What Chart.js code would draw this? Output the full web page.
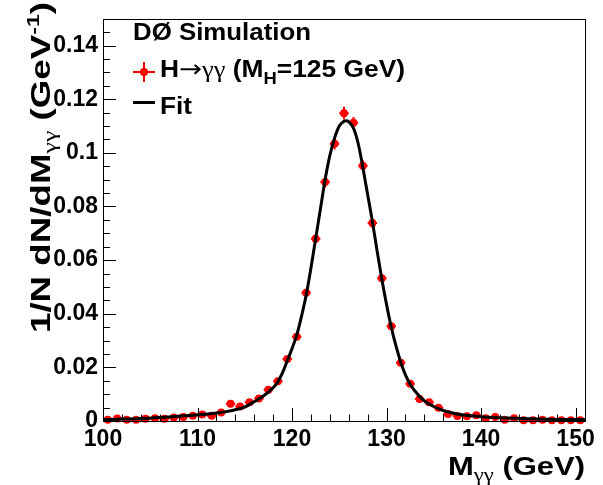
<!DOCTYPE html>
<html>
<head>
<meta charset="utf-8">
<title>H to gamma gamma mass</title>
<script src="https://cdn.jsdelivr.net/npm/chart.js@4/dist/chart.umd.min.js"></script>
<style>
  html, body { margin: 0; padding: 0; background: #fff; }
  #plot { display: block; }
</style>
</head>
<body>
<canvas id="plot" width="603" height="485"></canvas>
<script>
// bin centres (GeV), 1 GeV wide bins
const massBins = [
  100.5, 101.5, 102.5, 103.5, 104.5, 105.5, 106.5, 107.5, 108.5, 109.5,
  110.5, 111.5, 112.5, 113.5, 114.5, 115.5, 116.5, 117.5, 118.5, 119.5,
  120.5, 121.5, 122.5, 123.5, 124.5, 125.5, 126.5, 127.5, 128.5, 129.5,
  130.5, 131.5, 132.5, 133.5, 134.5, 135.5, 136.5, 137.5, 138.5, 139.5,
  140.5, 141.5, 142.5, 143.5, 144.5, 145.5, 146.5, 147.5, 148.5, 149.5,
  150.5
];
const binHalfWidth = 0.5;

// 1/N dN/dM
const massValues = [
  0.0005, 0.0009, 0.0005, 0.0005, 0.0008, 0.0010, 0.0008, 0.0013, 0.0015, 0.0020,
  0.0024, 0.0020, 0.0032, 0.0064, 0.0054, 0.0070, 0.0084, 0.0117, 0.0148, 0.0231,
  0.0314, 0.0478, 0.0680, 0.0891, 0.1034, 0.1148, 0.1112, 0.0952, 0.0738, 0.0532,
  0.0353, 0.0217, 0.0139, 0.0082, 0.0070, 0.0049, 0.0026, 0.0019, 0.0018, 0.0021,
  0.0010, 0.0015, 0.0005, 0.0010, 0.0003, 0.0003, 0.0005, 0.0003, 0.0003, 0.0003,
  0.0003
];
const massErrors = [
  0.0003, 0.0003, 0.0003, 0.0003, 0.0003, 0.0003, 0.0003, 0.0003, 0.0003, 0.0003,
  0.0003, 0.0003, 0.0004, 0.0005, 0.0005, 0.0005, 0.0006, 0.0007, 0.0008, 0.0010,
  0.0012, 0.0015, 0.0017, 0.0020, 0.0021, 0.0024, 0.0022, 0.0020, 0.0017, 0.0015,
  0.0012, 0.0010, 0.0008, 0.0006, 0.0005, 0.0005, 0.0004, 0.0003, 0.0003, 0.0003,
  0.0003, 0.0003, 0.0003, 0.0003, 0.0003, 0.0003, 0.0003, 0.0003, 0.0003, 0.0003,
  0.0003
];

// fit curve
const fitMass = [
  100, 102, 104, 106, 108, 110, 112, 113, 114, 115, 116, 117, 118, 118.5, 119, 119.5,
  120, 120.5, 121, 121.5, 122, 122.5, 123, 123.5, 124, 124.5, 125, 125.5, 125.75, 126,
  126.5, 127, 127.5, 128, 128.5, 129, 129.5, 130, 130.5, 131, 131.5, 132, 132.5, 133,
  134, 135, 136, 137, 138, 140, 142, 145, 148, 151
];
const fitValues = [
  0.0005, 0.0007, 0.0009, 0.0013, 0.0018, 0.0023, 0.0030, 0.0035, 0.0042, 0.0052, 0.0072, 0.0094, 0.0124, 0.0146, 0.0180, 0.0225,
  0.0270, 0.0320, 0.0390, 0.0470, 0.0570, 0.0680, 0.0790, 0.0900, 0.0990, 0.1055, 0.1100, 0.1118, 0.1120, 0.1116,
  0.1092, 0.1035, 0.0945, 0.0845, 0.0745, 0.0635, 0.0530, 0.0435, 0.0350, 0.0280, 0.0220, 0.0172, 0.0137, 0.0112,
  0.0075, 0.0054, 0.0039, 0.0030, 0.0023, 0.0016, 0.0012, 0.0008, 0.0006, 0.0005
];

const SANS = '"Liberation Sans", Arial, Helvetica, sans-serif';
const SERIF = '"Liberation Serif", "DejaVu Serif", serif';
const ARROW = '"DejaVu Sans", sans-serif';
const RED = '#ff0000';

function fontOf(p) {
  const family = p.family || (p.serif ? SERIF : SANS);
  return (p.bold === false ? '' : 'bold ') + p.size + 'px ' + family;
}

// draws a run of text pieces, stretched along the run to a target length
function drawRich(ctx, x, y, parts, targetWidth, angle) {
  let total = 0;
  parts.forEach(p => { ctx.font = fontOf(p); total += ctx.measureText(p.t).width; });
  ctx.save();
  ctx.translate(x, y);
  if (angle) ctx.rotate(angle);
  ctx.scale(targetWidth ? targetWidth / total : 1, 1);
  ctx.fillStyle = '#000';
  ctx.textBaseline = 'alphabetic';
  ctx.textAlign = 'left';
  let cx = 0;
  parts.forEach(p => {
    ctx.font = fontOf(p);
    ctx.fillText(p.t, cx, p.dy || 0);
    cx += ctx.measureText(p.t).width;
  });
  ctx.restore();
}

const errorBars = {
  id: 'errorBars',
  beforeDatasetsDraw(chart) {
    const { ctx, scales: { x, y } } = chart;
    ctx.save();
    ctx.strokeStyle = RED;
    ctx.lineWidth = 2;
    massBins.forEach((m, i) => {
      const px = x.getPixelForValue(m);
      const py = y.getPixelForValue(massValues[i]);
      ctx.beginPath();
      ctx.moveTo(x.getPixelForValue(m - binHalfWidth), py);
      ctx.lineTo(x.getPixelForValue(m + binHalfWidth), py);
      ctx.moveTo(px, y.getPixelForValue(massValues[i] - massErrors[i]));
      ctx.lineTo(px, y.getPixelForValue(massValues[i] + massErrors[i]));
      ctx.stroke();
    });
    ctx.restore();
  }
};

const frameAndText = {
  id: 'frameAndText',
  afterDraw(chart) {
    const { ctx, chartArea: a, scales: { x, y } } = chart;
    ctx.save();
    ctx.strokeStyle = '#000';
    ctx.lineWidth = 1;
    ctx.strokeRect(Math.round(a.left) + 0.5, Math.round(a.top) + 0.5,
                   Math.round(a.right - a.left), Math.round(a.bottom - a.top));

    // inward ticks, ROOT style
    ctx.beginPath();
    for (let k = 0; k <= 25; k++) {
      const v = 100 + 2 * k;
      const px = Math.round(x.getPixelForValue(v)) + 0.5;
      const len = k % 5 === 0 ? 13 : 6.5;
      ctx.moveTo(px, a.bottom);
      ctx.lineTo(px, a.bottom - len);
    }
    for (let k = 0; k <= 30; k++) {
      const py = Math.round(y.getPixelForValue(0.005 * k)) + 0.5;
      const len = k % 4 === 0 ? 13 : 7;
      ctx.moveTo(a.left, py);
      ctx.lineTo(a.left + len, py);
    }
    ctx.stroke();

    // legend
    drawRich(ctx, 133, 39.5, [{ t: 'DØ Simulation', size: 23 }], 178);

    ctx.strokeStyle = RED;
    ctx.lineWidth = 2;
    ctx.beginPath();
    ctx.moveTo(133, 72); ctx.lineTo(155, 72);
    ctx.moveTo(144, 62); ctx.lineTo(144, 82);
    ctx.stroke();
    ctx.fillStyle = RED;
    ctx.beginPath(); ctx.arc(144, 72, 4, 0, Math.PI * 2); ctx.fill();
    drawRich(ctx, 160, 77, [
      { t: 'H', size: 23 },
      { t: '→', size: 24, family: ARROW, bold: false },
      { t: 'γγ', size: 23, serif: true, bold: false },
      { t: ' (M', size: 23 },
      { t: 'H', size: 16, dy: 7 },
      { t: '=125 GeV)', size: 23 }
    ], 245);

    ctx.strokeStyle = '#000';
    ctx.lineWidth = 3;
    ctx.beginPath(); ctx.moveTo(133, 102.5); ctx.lineTo(155, 102.5); ctx.stroke();
    drawRich(ctx, 160, 113.5, [{ t: 'Fit', size: 23 }], 32);

    // axis titles
    drawRich(ctx, 448, 475, [
      { t: 'M', size: 26 },
      { t: 'γγ', size: 19, serif: true, bold: false, dy: 6 },
      { t: ' (GeV)', size: 26 }
    ], 137);
    drawRich(ctx, 50, 333, [
      { t: '1/N dN/dM', size: 27 },
      { t: 'γγ', size: 19, serif: true, bold: false, dy: 6 },
      { t: ' (GeV', size: 27 },
      { t: '-1', size: 17, dy: -11 },
      { t: ')', size: 27 }
    ], 331, -Math.PI / 2);
    ctx.restore();
  }
};

new Chart(document.getElementById('plot'), {
  type: 'scatter',
  data: {
    datasets: [
      {
        label: 'Fit',
        data: fitMass.map((m, i) => ({ x: m, y: fitValues[i] })),
        showLine: true,
        borderColor: '#000',
        borderWidth: 3,
        pointRadius: 0,
        cubicInterpolationMode: 'monotone',
        fill: false
      },
      {
        label: 'H→γγ (M_H=125 GeV)',
        data: massBins.map((m, i) => ({ x: m, y: massValues[i] })),
        backgroundColor: RED,
        borderColor: RED,
        borderWidth: 0,
        pointRadius: 4,
        showLine: false,
        clip: false
      }
    ]
  },
  options: {
    responsive: false,
    animation: false,
    devicePixelRatio: 1,
    layout: { padding: { top: 9, right: 18, left: 0, bottom: 0 } },
    plugins: { legend: { display: false }, tooltip: { enabled: false } },
    scales: {
      x: {
        type: 'linear',
        min: 100,
        max: 151,
        afterFit: s => { s.height = 64; },
        grid: { display: false, drawTicks: false },
        border: { display: false },
        ticks: {
          stepSize: 10, includeBounds: false, autoSkip: false, maxRotation: 0,
          padding: 5, color: '#000',
          font: { family: SANS, size: 23, weight: 'bold' }
        }
      },
      y: {
        type: 'linear',
        min: 0,
        max: 0.15,
        afterFit: s => { s.width = 103; },
        grid: { display: false, drawTicks: false },
        border: { display: false },
        ticks: {
          stepSize: 0.02, includeBounds: false, autoSkip: false,
          padding: 5, color: '#000',
          font: { family: SANS, size: 23, weight: 'bold' },
          callback: v => String(+v.toFixed(4))
        }
      }
    }
  },
  plugins: [errorBars, frameAndText]
});
</script>
</body>
</html>
